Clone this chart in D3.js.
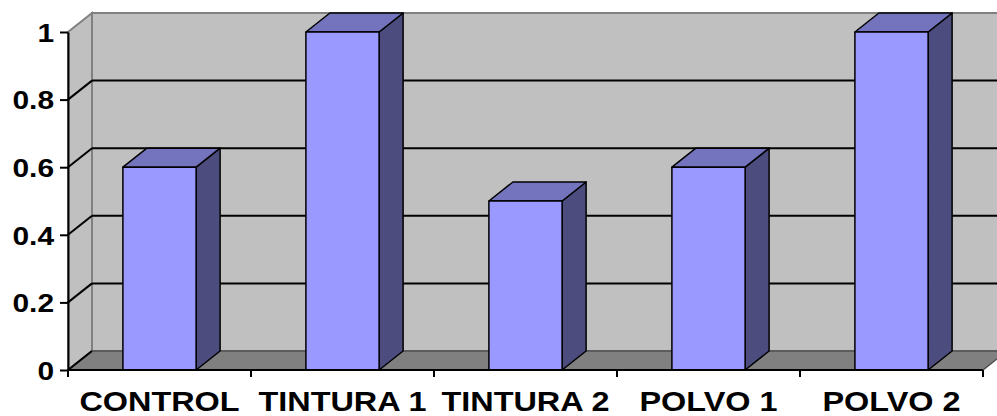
<!DOCTYPE html>
<html>
<head>
<meta charset="utf-8">
<script src="https://cdn.jsdelivr.net/npm/d3@7"></script>
<style>
  html, body { margin: 0; padding: 0; background: #fff; }
  svg { display: block; }
  text { font-family: "Liberation Sans", Arial, sans-serif; font-weight: bold; font-size: 27px; fill: #000; }
</style>
</head>
<body>
<div id="chart"></div>
<script>
// data
const categories = ['CONTROL', 'TINTURA 1', 'TINTURA 2', 'POLVO 1', 'POLVO 2'];
const values = [0.6, 1, 0.5, 0.6, 1];
const yTicks = [0, 0.2, 0.4, 0.6, 0.8, 1];

const width = 997, height = 416;
const plotLeft = 68, plotRight = 983, plotBottom = 370, plotTop = 32;
// 3d depth offset
const dx = 24, dy = -19;
// labels in the original are stretched sideways
const stretchX = 1.2, stretchY = 1.15;

const svg = d3.select('#chart').append('svg')
  .attr('width', width)
  .attr('height', height);

const y = d3.scaleLinear().domain([0, 1]).range([plotBottom, plotTop]);
const xCat = d3.scaleBand().domain(categories).range([plotLeft, plotRight]).padding(0);
const xBar = d3.scaleBand().domain(categories).range([plotLeft, plotRight])
  .paddingInner(0.6).paddingOuter(0.3);

const pts = arr => arr.map(p => p.join(',')).join(' ');

// back wall
svg.append('polygon')
  .attr('points', pts([[plotLeft + dx, y(1) + dy], [plotRight + dx, y(1) + dy], [plotRight + dx, y(0) + dy], [plotLeft + dx, y(0) + dy]]))
  .attr('fill', '#c0c0c0')
  .attr('stroke', '#808080')
  .attr('stroke-width', 2);

// side wall
svg.append('polygon')
  .attr('points', pts([[plotLeft, y(0)], [plotLeft + dx, y(0) + dy], [plotLeft + dx, y(1) + dy], [plotLeft, y(1)]]))
  .attr('fill', '#c0c0c0')
  .attr('stroke', '#808080')
  .attr('stroke-width', 2);

// floor
svg.append('polygon')
  .attr('points', pts([[plotLeft, y(0)], [plotRight, y(0)], [plotRight + dx, y(0) + dy], [plotLeft + dx, y(0) + dy]]))
  .attr('fill', '#808080')
  .attr('stroke', '#505050')
  .attr('stroke-width', 1.5);

// gridlines (back wall + side wall)
const grid = svg.append('g');
yTicks.filter(v => v > 0 && v < 1).forEach(v => {
  grid.append('line')
    .attr('x1', plotLeft + dx).attr('x2', plotRight + dx)
    .attr('y1', y(v) + dy).attr('y2', y(v) + dy)
    .attr('stroke', '#000').attr('stroke-width', 2);
});
yTicks.filter(v => v < 1).forEach(v => {
  grid.append('line')
    .attr('x1', plotLeft).attr('x2', plotLeft + dx)
    .attr('y1', y(v)).attr('y2', y(v) + dy)
    .attr('stroke', '#000').attr('stroke-width', 2);
});

// bars
const bars = svg.append('g')
  .attr('stroke', '#000')
  .attr('stroke-width', 1.5)
  .attr('stroke-linejoin', 'round');

categories.forEach((c, i) => {
  const x0 = xBar(c), x1 = x0 + xBar.bandwidth();
  const yt = y(values[i]), yb = y(0);
  // side
  bars.append('polygon')
    .attr('points', pts([[x1, yb], [x1 + dx, yb + dy], [x1 + dx, yt + dy], [x1, yt]]))
    .attr('fill', '#4c4c7e');
  // top
  bars.append('polygon')
    .attr('points', pts([[x0, yt], [x1, yt], [x1 + dx, yt + dy], [x0 + dx, yt + dy]]))
    .attr('fill', '#7474be');
  // front
  bars.append('rect')
    .attr('x', x0).attr('y', yt)
    .attr('width', x1 - x0).attr('height', yb - yt)
    .attr('fill', '#9999ff');
});

// y axis
const yAxis = svg.append('g')
  .attr('transform', `translate(${plotLeft},0)`)
  .call(d3.axisLeft(y).tickValues(yTicks).tickSize(8).tickSizeOuter(0).tickFormat(d => String(d)));
yAxis.select('.domain').attr('stroke', '#000').attr('stroke-width', 2);
yAxis.selectAll('.tick line').attr('stroke', '#000').attr('stroke-width', 2);
yAxis.selectAll('.tick text')
  .attr('x', -14 / stretchY)
  .attr('dy', '0.36em')
  .attr('transform', `scale(${stretchY},1)`)
  .style('font-size', '26px')
  .style('font-family', '"Liberation Sans", Arial, sans-serif')
  .style('font-weight', 'bold');

// x axis line + boundary ticks
const xAxis = svg.append('g');
xAxis.append('line')
  .attr('x1', plotLeft).attr('x2', plotRight)
  .attr('y1', plotBottom).attr('y2', plotBottom)
  .attr('stroke', '#000').attr('stroke-width', 2);
const bounds = categories.map(c => xCat(c)).concat([plotRight]);
bounds.forEach(b => {
  xAxis.append('line')
    .attr('x1', b).attr('x2', b)
    .attr('y1', plotBottom).attr('y2', plotBottom + 7)
    .attr('stroke', '#000').attr('stroke-width', 2);
});
categories.forEach(c => {
  xAxis.append('text')
    .attr('transform', `translate(${xCat(c) + xCat.bandwidth() / 2},411) scale(${stretchX},1)`)
    .attr('text-anchor', 'middle')
    .text(c);
});
</script>
</body>
</html>
